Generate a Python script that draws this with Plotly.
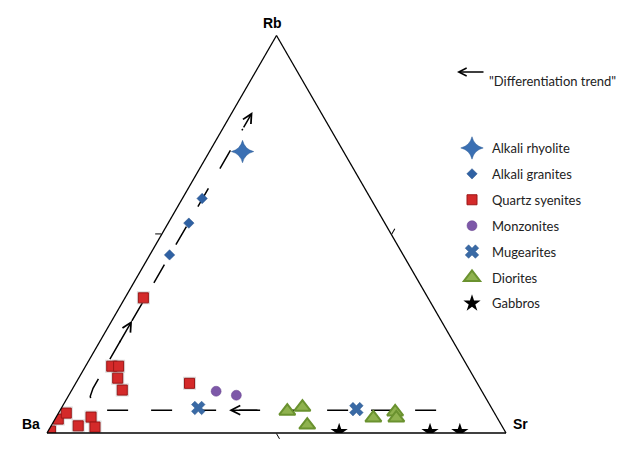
import math
import plotly.graph_objects as go

# Compositions in percent: Rb (top apex), Ba (lower left), Sr (lower right)
rhyolite_rb = [70.8]
rhyolite_ba = [22.0]
rhyolite_sr = [7.2]

granite_rb = [59.0, 52.8, 44.8]
granite_ba = [36.7, 42.7, 50.9]
granite_sr = [4.3, 4.5, 4.3]

qsyenite_rb = [34.0, 16.8, 16.8, 13.8, 10.8, 12.5, 0.5, 3.5, 5.0, 1.8, 4.0, 1.5]
qsyenite_ba = [62.0, 77.5, 76.0, 77.7, 78.2, 62.7, 99.0, 95.8, 93.3, 92.3, 88.4, 88.8]
qsyenite_sr = [4.0, 5.7, 7.2, 8.5, 11.0, 24.8, 0.5, 0.7, 1.7, 5.9, 7.6, 9.7]

monzonite_rb = [10.5, 9.5]
monzonite_ba = [57.9, 54.0]
monzonite_sr = [31.6, 36.5]

mugearite_rb = [6.3, 6.0]
mugearite_ba = [63.9, 29.6]
mugearite_sr = [29.8, 64.4]

diorite_rb = [5.5, 6.5, 2.0, 3.8, 5.3, 3.8]
diorite_ba = [44.9, 41.1, 42.3, 27.0, 21.5, 22.0]
diorite_sr = [49.6, 52.4, 55.7, 69.2, 73.2, 74.2]

gabbro_rb = [0.3, 0.3, 0.3]
gabbro_ba = [36.2, 16.4, 9.9]
gabbro_sr = [63.5, 83.3, 89.8]

# Guide path of the differentiation trend
trend_rb = [5.75, 5.75, 6.25, 7.75, 9.25, 11.25, 76.5]
trend_ba = [12.35, 84.25, 86.15, 86.45, 85.95, 84.35, 19.1]
trend_sr = [81.9, 10.0, 7.6, 5.8, 4.8, 4.4, 4.4]

# Arrow segments along the trend: (rb, sr) of tail and head
trend_arrows = [
    ((22.5, 4.4), (28.25, 4.4)),
    ((76.5, 4.4), (80.75, 4.4)),
    ((5.75, 43.3), (5.75, 36.8)),
]

W_PX, H_PX = 639, 452
TRI_X0, TRI_Y0, TRI_W = 47, 433, 459
TRI_H = TRI_W * math.sqrt(3) / 2


def ternary_pixel(rb, sr):
    px = TRI_X0 + TRI_W * (sr + rb / 2) / 100
    py = TRI_Y0 - TRI_H * rb / 100
    return px, py


fig = go.Figure()

fig.add_trace(go.Scatterternary(
    a=trend_rb, b=trend_ba, c=trend_sr, mode="lines",
    line=dict(color="black", width=1.5, dash="21px,23px"),
    showlegend=False, hoverinfo="skip"))

# soft grey shadow under the quartz syenite squares
fig.add_trace(go.Scatterternary(
    a=qsyenite_rb, b=qsyenite_ba, c=qsyenite_sr, mode="markers",
    marker=dict(symbol="square", size=13, color="rgba(150,150,150,0.35)"),
    showlegend=False, hoverinfo="skip"))

series = [
    ("Alkali rhyolite", rhyolite_rb, rhyolite_ba, rhyolite_sr,
     dict(symbol="star-diamond", size=16, color="#3b70b3",
          line=dict(color="#2d5c96", width=0.5))),
    ("Alkali granites", granite_rb, granite_ba, granite_sr,
     dict(symbol="diamond", size=8, color="#2f61a3",
          line=dict(color="#244f87", width=0.5))),
    ("Quartz syenites", qsyenite_rb, qsyenite_ba, qsyenite_sr,
     dict(symbol="square", size=10, color="#d42a2a",
          line=dict(color="#9c1717", width=1))),
    ("Monzonites", monzonite_rb, monzonite_ba, monzonite_sr,
     dict(symbol="circle", size=10, color="#7d58a8",
          line=dict(color="#6a4790", width=0.5))),
    ("Mugearites", mugearite_rb, mugearite_ba, mugearite_sr,
     dict(symbol="x", size=12, color="#3a6aa5",
          line=dict(color="#2f5a90", width=0.5))),
    ("Diorites", diorite_rb, diorite_ba, diorite_sr,
     dict(symbol="triangle-up", size=14, color="#8fb24f",
          line=dict(color="#6a922f", width=2))),
    ("Gabbros", gabbro_rb, gabbro_ba, gabbro_sr,
     dict(symbol="star", size=13, color="black")),
]

for name, rb, ba, sr, mk in series:
    fig.add_trace(go.Scatterternary(
        a=rb, b=ba, c=sr, mode="markers", name=name, marker=mk,
        legendgroup=name))

axis_style = dict(
    title=dict(text=""), showticklabels=False, showgrid=False,
    ticks="outside", tickmode="array", tickvals=[50], ticklen=6,
    tickwidth=1.2, tickcolor="black", linecolor="black", linewidth=1.3,
    min=0)

annotations = [
    dict(text="<b>Rb</b>", x=272 / W_PX, y=1 - 13 / H_PX),
    dict(text="<b>Ba</b>", x=20 / W_PX, y=1 - 434 / H_PX),
    dict(text="<b>Sr</b>", x=530 / W_PX, y=1 - 434 / H_PX),
]
for ann in annotations:
    ann.update(xref="paper", yref="paper", showarrow=False,
               font=dict(family="Liberation Sans, Arial", size=14, color="black"))

for (t_rb, t_sr), (h_rb, h_sr) in trend_arrows:
    tx, ty = ternary_pixel(t_rb, t_sr)
    hx, hy = ternary_pixel(h_rb, h_sr)
    annotations.append(dict(
        x=hx / W_PX, y=1 - hy / H_PX, xref="paper", yref="paper",
        ax=tx - hx, ay=ty - hy, text="", showarrow=True,
        arrowhead=5, arrowsize=1.2, arrowwidth=1.5, arrowcolor="black",
        standoff=0, startstandoff=0))

# key entry for the trend arrow
annotations.append(dict(
    x=457 / W_PX, y=1 - 72 / H_PX, xref="paper", yref="paper",
    ax=28, ay=0, text="", showarrow=True, arrowhead=5, arrowsize=1.2,
    arrowwidth=1.3, arrowcolor="black", standoff=0, startstandoff=0))
annotations.append(dict(
    x=487 / W_PX, y=1 - 71 / H_PX, xref="paper", yref="paper",
    xanchor="left", showarrow=False, text="\"Differentiation trend\"",
    font=dict(family="Lato, Open Sans", size=13, color="#222")))

fig.update_layout(
    width=W_PX, height=H_PX,
    margin=dict(l=0, r=0, t=0, b=0),
    paper_bgcolor="white",
    ternary=dict(
        sum=100, bgcolor="white",
        domain=dict(x=[TRI_X0 / W_PX, (TRI_X0 + TRI_W) / W_PX],
                    y=[(H_PX - TRI_Y0) / H_PX, (H_PX - TRI_Y0 + TRI_H) / H_PX]),
        aaxis=axis_style, baxis=axis_style, caxis=axis_style),
    legend=dict(x=452 / W_PX, y=1 - 133 / H_PX, xanchor="left", yanchor="top",
                tracegroupgap=6, bgcolor="rgba(0,0,0,0)",
                font=dict(family="Lato, Open Sans", size=13, color="#222")),
    annotations=annotations,
    showlegend=True,
)

fig.write_html("out.html")
